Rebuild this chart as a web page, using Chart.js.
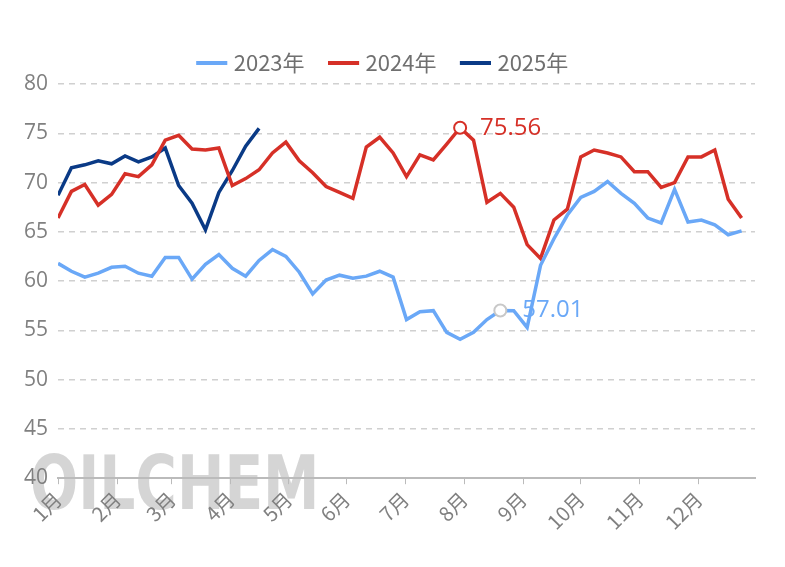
<!DOCTYPE html>
<html>
<head>
<meta charset="UTF-8">
<script src="https://cdn.jsdelivr.net/npm/chart.js"></script>
<style>
  body { margin: 0; background: #fff; font-family: "Noto Sans CJK SC", "Open Sans", sans-serif; }
</style>
</head>
<body>
<canvas id="chart" width="785" height="567"></canvas>
<script>
// weekly values, week index 0..51
const data2023 = [61.8, 61.0, 60.4, 60.8, 61.4, 61.5, 60.8, 60.5, 62.4, 62.4, 60.2, 61.7, 62.7, 61.3, 60.5, 62.1, 63.2, 62.5, 60.9, 58.7, 60.1, 60.6, 60.3, 60.5, 61.0, 60.4,
                  56.1, 56.9, 57.0, 54.8, 54.1, 54.8, 56.1, 57.01, 57.0, 55.3, 61.6, 64.3, 66.7, 68.5, 69.1, 70.1, 68.9, 67.9, 66.4, 65.9, 69.3, 66.0, 66.2, 65.7, 64.7, 65.1];
const data2024 = [66.4, 69.1, 69.8, 67.7, 68.8, 70.9, 70.6, 71.8, 74.3, 74.8, 73.4, 73.3, 73.5, 69.7, 70.4, 71.3, 73.0, 74.1, 72.2, 71.0, 69.6, 69.0, 68.4, 73.6, 74.6, 73.0,
                  70.6, 72.8, 72.3, 73.9, 75.56, 74.3, 68.0, 68.9, 67.5, 63.7, 62.3, 66.2, 67.3, 72.6, 73.3, 73.0, 72.6, 71.1, 71.1, 69.5, 70.0, 72.6, 72.6, 73.3, 68.3, 66.4];
const data2025 = [68.7, 71.5, 71.8, 72.2, 71.9, 72.7, 72.1, 72.6, 73.5, 69.7, 67.9, 65.2, 69.0, 71.2, 73.7, 75.5];
const monthLabels = ['1月', '2月', '3月', '4月', '5月', '6月', '7月', '8月', '9月', '10月', '11月', '12月'];
const monthWeeks = [0, 4.43, 8.5, 12.9, 17.2, 21.5, 25.9, 30.3, 34.7, 39.0, 43.4, 47.8];
const yTicks = [40, 45, 50, 55, 60, 65, 70, 75, 80];

const toXY = arr => arr.map((v, i) => ({ x: i, y: v }));
const markIdx2023 = 33, markIdx2024 = 30;

const labelPlugin = {
  id: 'labels',
  beforeDraw(chart) {
    const ctx = chart.ctx;
    ctx.save();
    const g = ctx.createLinearGradient(0, 455, 0, 525);
    g.addColorStop(0, 'rgba(185,185,185,0.6)');
    g.addColorStop(1, 'rgba(240,240,240,0.3)');
    ctx.fillStyle = g;
    ctx.font = 'bold 60px "Liberation Sans Narrow", "DejaVu Sans Condensed", sans-serif';
    ctx.textBaseline = 'top';
    ctx.translate(30, 452);
    ctx.scale(1.05, 1.25);
    ctx.fillText('OILCHEM', 0, 0);
    ctx.restore();
  },
  afterDatasetsDraw(chart) {
    const ctx = chart.ctx;
    ctx.save();
    ctx.font = '24px "Open Sans", sans-serif';
    ctx.textBaseline = 'middle';
    const p1 = chart.getDatasetMeta(1).data[markIdx2024];
    ctx.fillStyle = '#d63027';
    ctx.fillText(data2024[markIdx2024].toFixed(2), p1.x + 20, p1.y);
    const p0 = chart.getDatasetMeta(0).data[markIdx2023];
    ctx.fillStyle = '#6aa8f7';
    ctx.fillText(data2023[markIdx2023].toFixed(2), p0.x + 22, p0.y);
    ctx.restore();
  }
};

const radii = (n, idx) => Array.from({ length: n }, (_, i) => i === idx ? 6 : 0);

new Chart(document.getElementById('chart'), {
  type: 'line',
  data: {
    datasets: [
      { label: '2023年', data: toXY(data2023), borderColor: '#6aa8f7', backgroundColor: '#6aa8f7',
        borderWidth: 3.5, pointRadius: radii(data2023.length, markIdx2023), pointBackgroundColor: '#fff',
        pointBorderColor: '#c8c8c8', pointBorderWidth: 2, tension: 0 },
      { label: '2024年', data: toXY(data2024), borderColor: '#d63027', backgroundColor: '#d63027',
        borderWidth: 3.5, pointRadius: radii(data2024.length, markIdx2024), pointBackgroundColor: '#fff',
        pointBorderColor: '#d63027', pointBorderWidth: 2, tension: 0 },
      { label: '2025年', data: toXY(data2025), borderColor: '#0a3a86', backgroundColor: '#0a3a86',
        borderWidth: 3.5, pointRadius: 0, tension: 0 }
    ]
  },
  options: {
    responsive: false,
    animation: false,
    layout: { padding: { top: 24, right: 30, left: 14, bottom: 30 } },
    plugins: {
      legend: {
        labels: {
          usePointStyle: true, pointStyle: 'line', boxWidth: 40, color: '#707070',
          font: { size: 22, family: '"Noto Sans CJK SC", sans-serif' }, padding: 28,
          generateLabels: chart => chart.data.datasets.map((ds, i) => ({
            text: ds.label, strokeStyle: ds.borderColor, fillStyle: ds.borderColor,
            lineWidth: 4, pointStyle: 'line', datasetIndex: i, fontColor: '#707070'
          }))
        }
      },
      tooltip: { enabled: false }
    },
    scales: {
      x: {
        type: 'linear', min: 0, max: 52,
        afterBuildTicks: axis => { axis.ticks = monthWeeks.map(v => ({ value: v })); },
        ticks: {
          autoSkip: false, maxRotation: 45, minRotation: 45, color: '#808080',
          font: { size: 20, family: '"Noto Sans CJK SC", sans-serif' },
          callback: (v) => monthLabels[monthWeeks.indexOf(v)]
        },
        grid: { drawOnChartArea: false, color: '#bbb', tickLength: 6 },
        border: { color: '#bbb', width: 2 }
      },
      y: {
        min: 40, max: 80,
        afterBuildTicks: axis => { axis.ticks = yTicks.map(v => ({ value: v })); },
        ticks: { color: '#808080', font: { size: 21, family: '"Open Sans", sans-serif' }, padding: 10 },
        grid: { color: '#d0d0d0', lineWidth: 1.5, drawTicks: false },
        border: { display: false, dash: [6, 5] }
      }
    }
  },
  plugins: [labelPlugin]
});
</script>
</body>
</html>
